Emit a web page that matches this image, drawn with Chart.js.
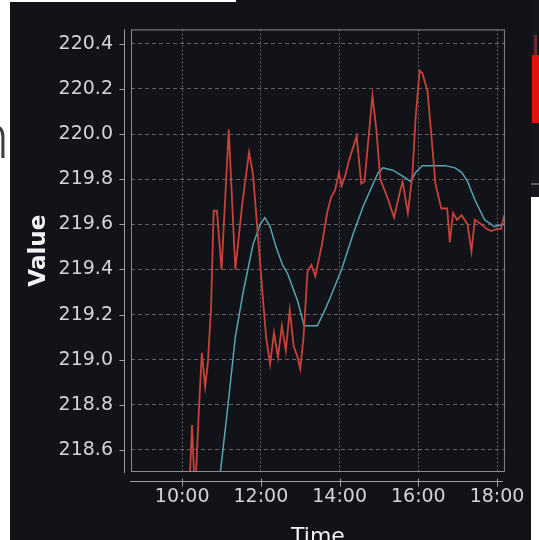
<!DOCTYPE html>
<html>
<head>
<meta charset="utf-8">
<script src="https://cdn.jsdelivr.net/npm/chart.js@4.4.1/dist/chart.umd.min.js"></script>
<style>
  html, body { margin: 0; padding: 0; width: 539px; height: 540px; overflow: hidden; background: #ffffff; }
  #glyph { position: absolute; left: -27px; top: 102px; font: 300 62px/64px "Open Sans", "DejaVu Sans", sans-serif; color: #3c3c3c; }
  #panel { position: absolute; left: 10px; top: 0; width: 529px; height: 540px; background: #121318; }
  #wrap { position: absolute; left: 10px; top: 0; width: 529px; height: 552px; }
  #topStrip { position: absolute; left: 0; top: 0; width: 236px; height: 2px; background: #ffffff; }
  #side { position: absolute; left: 531px; top: 0; width: 8px; height: 197px; background: #15171c; }
  #sideWhite { position: absolute; left: 531px; top: 197px; width: 8px; height: 343px; background: #ffffff; }
  #sideBar { position: absolute; left: 532px; top: 55px; width: 7px; height: 68px; background: #e3130f; }
  #sideWick { position: absolute; left: 534px; top: 35px; width: 3px; height: 20px; background: #6b2b26; }
  #sideRule { position: absolute; left: 531px; top: 183px; width: 8px; height: 2px; background: #5e5e5e; }
</style>
</head>
<body>
<div id="glyph">n</div>
<div id="panel"></div>
<div id="wrap"><canvas id="chart"></canvas></div>
<div id="topStrip"></div>
<div id="side"></div>
<div id="sideWick"></div>
<div id="sideBar"></div>
<div id="sideRule"></div>
<div id="sideWhite"></div>
<script>
// Measured readings (time of day, value)
const measuredTimes = [
  '10:05','10:12','10:15','10:18','10:21','10:26','10:30','10:35','10:39','10:44',
  '10:48','10:53','11:00','11:11','11:21','11:32','11:42','11:48','11:56','12:02',
  '12:08','12:14','12:20','12:26','12:32','12:38','12:44','12:50','12:56','13:00',
  '13:05','13:11','13:17','13:23','13:33','13:41','13:47','13:53','13:59','14:03',
  '14:08','14:15','14:26','14:33','14:38','14:50','14:56','15:02','15:14','15:23',
  '15:30','15:36','15:44','15:51','15:56','16:02','16:06','16:14','16:20','16:26',
  '16:35','16:44','16:48','16:53','16:59','17:06','17:15','17:21','17:26','17:36',
  '17:44','17:51','18:00','18:06','18:11'
];
const measuredValues = [
  218.30, 218.50, 218.71, 218.50, 218.49, 218.81, 219.03, 218.88, 218.98, 219.23,
  219.66, 219.66, 219.40, 220.02, 219.40, 219.70, 219.92, 219.82, 219.53, 219.31,
  219.10, 218.98, 219.12, 219.01, 219.15, 219.04, 219.22, 219.06, 219.01, 218.96,
  219.10, 219.39, 219.42, 219.37, 219.51, 219.65, 219.72, 219.75, 219.83, 219.77,
  219.81, 219.89, 219.99, 219.78, 219.79, 220.17, 220.02, 219.80, 219.71, 219.63,
  219.72, 219.79, 219.65, 219.82, 220.08, 220.28, 220.27, 220.19, 219.99, 219.78,
  219.67, 219.67, 219.52, 219.65, 219.62, 219.64, 219.60, 219.48, 219.62, 219.60,
  219.58, 219.57, 219.58, 219.58, 219.64
];

// Moving average of the readings
const averageTimes = [
  '10:57','11:08','11:21','11:33','11:48','11:59','12:06','12:14','12:23','12:33',
  '12:41','12:56','13:06','13:26','13:36','13:45','14:03','14:21','14:36','14:51',
  '14:59','15:06','15:21','15:38','15:48','15:56','16:06','16:21','16:41','16:56',
  '17:06','17:15','17:26','17:41','17:56','18:11'
];
const averageValues = [
  218.47, 218.75, 219.10, 219.30, 219.51, 219.60, 219.63, 219.59, 219.50, 219.42,
  219.38, 219.26, 219.15, 219.15, 219.21, 219.27, 219.40, 219.56, 219.68, 219.78,
  219.83, 219.85, 219.84, 219.81, 219.79, 219.83, 219.86, 219.86, 219.86, 219.85,
  219.83, 219.79, 219.71, 219.62, 219.59, 219.60
];

// Axis ticks
const xTickHours = [10, 12, 14, 16, 18];
const yTickValues = [218.6, 218.8, 219.0, 219.2, 219.4, 219.6, 219.8, 220.0, 220.2, 220.4];

const toHours = s => { const [h, m] = s.split(':').map(Number); return h + m / 60; };
const pairs = (times, values) => times.map((t, i) => ({ x: toHours(t), y: values[i] }));

// Plot frame plus offset axis lines with their tick marks
const framePlugin = {
  id: 'frame',
  afterDatasetsDraw(chart) {
    const { ctx, chartArea: a, scales: { x, y } } = chart;
    ctx.save();
    ctx.lineWidth = 1;
    ctx.strokeStyle = '#8a8a8a';
    ctx.strokeRect(a.left + 0.5, a.top + 0.5, a.right - a.left - 1, a.bottom - a.top - 1);

    ctx.strokeStyle = '#a0a0a0';
    const ax = a.left - 6.5;
    ctx.beginPath();
    ctx.moveTo(ax, a.top);
    ctx.lineTo(ax, a.bottom + 1);
    y.ticks.forEach(t => {
      const py = Math.round(y.getPixelForValue(t.value)) + 0.5;
      ctx.moveTo(ax - 5, py);
      ctx.lineTo(ax, py);
    });
    const ay = a.bottom + 9.5;
    ctx.moveTo(a.left - 1, ay);
    ctx.lineTo(a.right - 2, ay);
    x.ticks.forEach(t => {
      const px = Math.round(x.getPixelForValue(t.value)) + 0.5;
      ctx.moveTo(px, ay - 3);
      ctx.lineTo(px, ay + 5);
    });
    ctx.stroke();
    ctx.restore();
  }
};

new Chart(document.getElementById('chart'), {
  type: 'line',
  data: {
    datasets: [
      {
        label: 'Measured',
        data: pairs(measuredTimes, measuredValues),
        borderColor: '#c8413a',
        borderWidth: 1.8,
        pointRadius: 0,
        tension: 0
      },
      {
        label: 'Average',
        data: pairs(averageTimes, averageValues),
        borderColor: '#55a5b4',
        borderWidth: 1.5,
        pointRadius: 0,
        tension: 0
      }
    ]
  },
  options: {
    responsive: true,
    maintainAspectRatio: false,
    animation: false,
    layout: { padding: { left: 0, top: 10, right: 27, bottom: 0 } },
    plugins: { legend: { display: false }, tooltip: { enabled: false } },
    scales: {
      x: {
        type: 'linear',
        min: 8.7,
        max: 18.2,
        afterBuildTicks: s => { s.ticks = xTickHours.map(v => ({ value: v })); },
        afterFit: s => { s.height = 80; },
        grid: { color: 'rgba(150,150,150,0.6)', lineWidth: 1, drawTicks: false },
        border: { display: false, dash: [2, 2] },
        ticks: {
          color: '#d4d4d4',
          font: { family: 'DejaVu Sans', size: 19 },
          padding: 14,
          maxRotation: 0,
          callback: v => String(Math.round(v)).padStart(2, '0') + ':00'
        },
        title: {
          display: true,
          text: 'Time',
          color: '#f2f2f2',
          font: { family: 'DejaVu Sans', size: 22 },
          padding: { top: 0, bottom: 2 }
        }
      },
      y: {
        min: 218.5024,
        max: 220.4637,
        afterBuildTicks: s => { s.ticks = yTickValues.map(v => ({ value: v })); },
        afterFit: s => { s.width = 121; },
        grid: { color: 'rgba(150,150,150,0.6)', lineWidth: 1, drawTicks: false },
        border: { display: false, dash: [4, 3] },
        ticks: {
          color: '#d4d4d4',
          font: { family: 'DejaVu Sans', size: 19 },
          padding: 18,
          callback: v => Number(v).toFixed(1)
        },
        title: {
          display: true,
          text: 'Value',
          color: '#f2f2f2',
          font: { family: 'DejaVu Sans', size: 23, weight: 'bold' },
          padding: { top: 15, bottom: 0 }
        }
      }
    }
  },
  plugins: [framePlugin]
});
</script>
</body>
</html>
